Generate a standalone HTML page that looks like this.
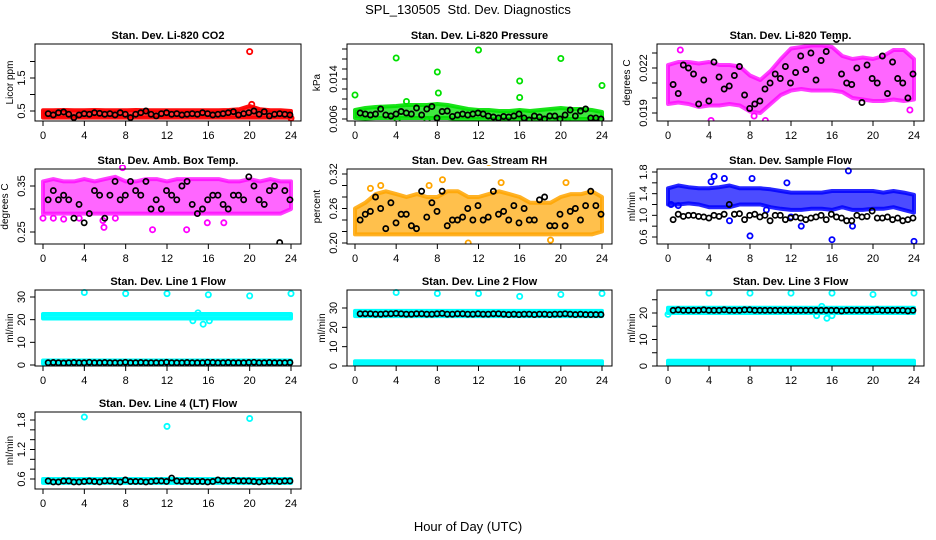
<!DOCTYPE html>
<html><head><meta charset="utf-8"><style>
html,body{margin:0;padding:0;background:#fff;}
svg{display:block;font-family:"Liberation Sans",Arial,sans-serif;}
</style></head><body>
<svg id="chart" width="936" height="540" viewBox="0 0 936 540" xmlns="http://www.w3.org/2000/svg">
<text x="468" y="14" font-size="13" text-anchor="middle">SPL_130505&#160; Std. Dev. Diagnostics</text>
<text x="468" y="531" font-size="13" text-anchor="middle">Hour of Day (UTC)</text>
</svg>
<script>
const hours = [0,1,2,3,4,5,6,7,8,9,10,11,12,13,14,15,16,17,18,19,20,21,22,23,24];
const xTicks = [0,4,8,12,16,20,24];

const co2Lo = [0.3,0.3,0.3,0.3,0.3,0.3,0.3,0.3,0.3,0.3,0.3,0.3,0.3,0.3,0.3,0.3,0.3,0.3,0.3,0.3,0.3,0.3,0.3,0.3,0.3];
const co2Hi = [0.52,0.52,0.53,0.52,0.52,0.53,0.52,0.52,0.52,0.53,0.52,0.52,0.52,0.52,0.52,0.52,0.52,0.52,0.53,0.55,0.65,0.55,0.52,0.52,0.5];
const co2OutX = [20,24,20.2];
const co2OutY = [2.3,0.28,0.7];
const co2Black = [0.42,0.38,0.45,0.47,0.40,0.30,0.38,0.42,0.40,0.45,0.43,0.40,0.42,0.38,0.45,0.40,0.30,0.40,0.45,0.50,0.40,0.35,0.42,0.45,0.40,0.42,0.38,0.40,0.42,0.40,0.45,0.42,0.38,0.40,0.42,0.45,0.48,0.38,0.42,0.45,0.50,0.40,0.48,0.35,0.40,0.42,0.40,0.38];

const presLo = [0.0062,0.0061,0.0062,0.0062,0.0062,0.0062,0.0062,0.0062,0.0062,0.0062,0.006,0.006,0.006,0.006,0.006,0.006,0.006,0.006,0.006,0.006,0.006,0.006,0.006,0.006,0.006];
const presHi = [0.0078,0.0082,0.0084,0.0085,0.0086,0.0088,0.0088,0.0088,0.009,0.0088,0.0084,0.008,0.0078,0.0078,0.0076,0.0076,0.0078,0.0076,0.0078,0.008,0.0082,0.008,0.008,0.0078,0.0074];
const presOutX = [0,4,8,8.1,12,16,16,20,24,4.1,10.6,14.8,20.7,5,7];
const presOutY = [0.0108,0.0182,0.0154,0.0112,0.0198,0.0136,0.0103,0.0181,0.0127,0.0059,0.005,0.0055,0.0055,0.0095,0.0058];
const presBlack = [0.0072,0.0070,0.0068,0.0070,0.0080,0.0068,0.0066,0.0070,0.0075,0.0072,0.0070,0.0082,0.0068,0.0080,0.0085,0.0062,0.0075,0.0076,0.0065,0.0068,0.0070,0.0068,0.0070,0.0072,0.0070,0.0066,0.0064,0.0062,0.0065,0.0064,0.0066,0.0070,0.0062,0.0058,0.0066,0.0064,0.0060,0.0066,0.0066,0.0060,0.0068,0.0078,0.0066,0.0076,0.0080,0.0062,0.0062,0.0060];

const ltLo = [0.0196,0.0197,0.0196,0.0194,0.0195,0.0195,0.0196,0.0195,0.0191,0.019,0.0196,0.0202,0.0205,0.0206,0.0205,0.0205,0.0205,0.0204,0.02,0.0199,0.0198,0.0198,0.0199,0.0198,0.0199];
const ltHi = [0.0222,0.0224,0.0224,0.0223,0.0224,0.0222,0.0222,0.0221,0.0215,0.0212,0.0218,0.0226,0.0233,0.0234,0.0235,0.0235,0.0234,0.0228,0.0226,0.0227,0.0226,0.0228,0.0232,0.0232,0.0226];
const ltOutX = [4.2,9.5,23.6,1.2,8.4];
const ltOutY = [0.0185,0.0185,0.0192,0.0232,0.0188];
const ltBlack = [0.0209,0.0203,0.0222,0.0220,0.0216,0.0196,0.0212,0.0198,0.0224,0.0214,0.0206,0.0208,0.0215,0.0221,0.0202,0.0193,0.0196,0.0198,0.0206,0.0210,0.0216,0.0213,0.0221,0.0210,0.0217,0.0228,0.0219,0.0230,0.0212,0.0225,0.0231,0.0245,0.0239,0.0216,0.0210,0.0209,0.0220,0.0197,0.0222,0.0213,0.0210,0.0228,0.0203,0.0224,0.0213,0.0210,0.0200,0.0216];

const abLo = [0.29,0.29,0.29,0.29,0.29,0.29,0.29,0.29,0.29,0.29,0.29,0.29,0.29,0.29,0.29,0.29,0.29,0.29,0.29,0.29,0.29,0.29,0.29,0.29,0.3];
const abHi = [0.36,0.365,0.36,0.36,0.365,0.36,0.365,0.37,0.36,0.36,0.365,0.365,0.36,0.365,0.365,0.365,0.365,0.365,0.36,0.36,0.365,0.36,0.365,0.36,0.36];
const abOutX = [5.9,5.8,7,10.6,13.9,15.9,0,1,2,7.7,3.5,17.5];
const abOutY = [0.26,0.275,0.28,0.255,0.255,0.27,0.28,0.28,0.278,0.39,0.28,0.27];
const abBlack = [0.32,0.34,0.32,0.33,0.32,0.28,0.31,0.27,0.29,0.34,0.33,0.28,0.33,0.36,0.32,0.33,0.36,0.34,0.33,0.36,0.30,0.32,0.30,0.34,0.33,0.32,0.35,0.36,0.31,0.29,0.30,0.32,0.33,0.33,0.31,0.30,0.33,0.33,0.32,0.37,0.35,0.32,0.31,0.34,0.35,0.227,0.34,0.32];

const rhLo = [0.215,0.215,0.215,0.215,0.215,0.215,0.215,0.215,0.215,0.215,0.215,0.215,0.215,0.215,0.215,0.215,0.215,0.215,0.215,0.215,0.215,0.215,0.215,0.215,0.22];
const rhHi = [0.26,0.27,0.285,0.29,0.285,0.28,0.285,0.28,0.28,0.29,0.29,0.28,0.28,0.285,0.29,0.285,0.28,0.27,0.27,0.27,0.28,0.285,0.285,0.29,0.28];
const rhOutX = [13,19,8.5,20.5,2.5,11,14.2,1.5,7.2];
const rhOutY = [0.34,0.205,0.31,0.305,0.3,0.2,0.305,0.295,0.3];
const rhBlack = [0.24,0.25,0.255,0.28,0.26,0.225,0.27,0.235,0.25,0.25,0.23,0.225,0.29,0.245,0.27,0.255,0.29,0.23,0.24,0.24,0.245,0.26,0.24,0.265,0.24,0.245,0.29,0.25,0.255,0.24,0.265,0.235,0.26,0.24,0.24,0.275,0.28,0.23,0.23,0.25,0.23,0.255,0.26,0.24,0.265,0.29,0.265,0.25];

const sfLo = [1.2,1.2,1.22,1.2,1.15,1.15,1.15,1.2,1.2,1.2,1.15,1.12,1.1,1.1,1.12,1.12,1.1,1.15,1.1,1.1,1.12,1.12,1.15,1.1,1.05];
const sfHi = [1.5,1.55,1.52,1.5,1.5,1.52,1.55,1.5,1.5,1.5,1.48,1.45,1.42,1.42,1.42,1.42,1.45,1.45,1.45,1.45,1.45,1.42,1.45,1.42,1.38];
const sfOutX = [17.6,0.3,16,8,24,13,6,18,4.5,5.5,8.2,12,4.2,1,11.6,9.6];
const sfOutY = [1.82,1.2,0.55,0.62,0.52,0.8,0.9,0.8,1.72,1.68,1.68,0.97,1.62,1.18,1.6,1.1];
const sfBlack = [0.92,1.02,0.98,1.0,1.0,0.98,0.97,0.95,1.0,0.98,1.02,1.2,1.02,1.03,0.92,1.0,1.02,0.97,1.0,0.9,1.0,1.0,0.92,0.95,0.97,0.95,0.92,0.95,0.97,1.0,0.92,1.02,0.97,0.95,0.9,0.9,1.0,0.97,0.98,1.08,0.95,0.95,0.97,0.92,0.95,0.9,0.92,0.95];

const l1Lo = [20.5,20.5,20.5,20.5,20.5,20.5,20.5,20.5,20.5,20.5,20.5,20.5,20.5,20.5,20.5,20.5,20.5,20.5,20.5,20.5,20.5,20.5,20.5,20.5,20.5];
const l1Hi = [22.5,22.5,22.5,22.5,22.5,22.5,22.5,22.5,22.5,22.5,22.5,22.5,22.5,22.5,22.5,22.5,22.5,22.5,22.5,22.5,22.5,22.5,22.5,22.5,22.5];
const l1Lo2 = [0.6,0.6,0.6,0.6,0.6,0.6,0.6,0.6,0.6,0.6,0.6,0.6,0.6,0.6,0.6,0.6,0.6,0.6,0.6,0.6,0.6,0.6,0.6,0.6,0.6];
const l1Hi2 = [2,2,2,2,2,2,2,2,2,2,2,2,2,2,2,2,2,2,2,2,2,2,2,2,2];
const l1OutX = [4,8,12,16,20,24,15,15.5,14.5,16.1];
const l1OutY = [32,31.5,31.5,31,30.5,31.5,23,18,19.5,19.5];
const l1Black = [1.0,1.1,1.0,0.9,1.0,1.1,1.0,1.0,1.2,1.0,1.0,1.1,1.0,1.0,1.0,1.2,1.0,1.0,1.1,1.0,1.0,1.0,1.0,1.2,1.0,1.0,1.0,1.1,1.0,1.0,1.0,1.2,1.1,1.0,1.0,1.1,1.0,1.0,1.0,1.1,1.2,1.0,1.0,1.1,1.0,1.0,1.0,1.1];

const l2Lo = [25.8,25.8,25.8,25.8,25.8,25.8,25.8,25.8,25.8,25.8,25.8,25.8,25.8,25.8,25.8,25.8,25.8,25.8,25.8,25.8,25.8,25.8,25.8,25.8,25.8];
const l2Hi = [28.5,28.5,28.5,28.5,28.5,28.5,28.5,28.5,28.5,28.5,28.5,28.5,28.5,28.5,28.5,28.5,28.5,28.5,28.5,28.5,28.5,28.5,28.5,28.5,28.5];
const l2Lo2 = [0.5,0.5,0.5,0.5,0.5,0.5,0.5,0.5,0.5,0.5,0.5,0.5,0.5,0.5,0.5,0.5,0.5,0.5,0.5,0.5,0.5,0.5,0.5,0.5,0.5];
const l2Hi2 = [2.5,2.5,2.5,2.5,2.5,2.5,2.5,2.5,2.5,2.5,2.5,2.5,2.5,2.5,2.5,2.5,2.5,2.5,2.5,2.5,2.5,2.5,2.5,2.5,2.5];
const l2OutX = [4,8,12,16,20,24];
const l2OutY = [38,37.5,37.5,36,37,37.5];
const l2Black = [27,27,27,26.8,26.8,27,27,27.2,27,26.8,26.8,27,27,26.8,26.8,27,27.2,26.8,26.8,27,27,26.8,26.8,27,26.8,26.8,27,27,26.8,26.6,26.8,26.6,26.8,26.8,26.6,26.8,26.8,26.6,26.8,26.8,27,26.8,26.6,26.8,26.6,26.6,26.6,26.6];

const l3Lo = [20,20,20,20,20,20,20,20,20,20,20,20,20,20,20,20,20,20,20,20,20,20,20,20,20];
const l3Hi = [22,22,22,22,22,22,22,22,22,22,22,22,22,22,22,22,22,22,22,22,22,22,22,22,22];
const l3Lo2 = [0.5,0.5,0.5,0.5,0.5,0.5,0.5,0.5,0.5,0.5,0.5,0.5,0.5,0.5,0.5,0.5,0.5,0.5,0.5,0.5,0.5,0.5,0.5,0.5,0.5];
const l3Hi2 = [2,2,2,2,2,2,2,2,2,2,2,2,2,2,2,2,2,2,2,2,2,2,2,2,2];
const l3OutX = [4,8,12,16,20,24,0,14.5,15.5,15,16];
const l3OutY = [27.5,27.5,27.5,27.5,27,27.5,19.5,19,18,22.5,19];
const l3Black = [21,21.2,21,21,21,21,21.2,21,21,21,21.2,21,21,21,21.2,21.2,21,21,21,21,21,21,21,21,21,21,21,21,21,21,21,21,21,20.8,21,21,21,21,21,21,21.2,21,21,21,21,21,20.8,21];

const l4Lo = [0.52,0.52,0.52,0.52,0.52,0.52,0.52,0.52,0.52,0.52,0.52,0.52,0.52,0.52,0.52,0.52,0.52,0.52,0.52,0.52,0.52,0.52,0.52,0.52,0.52];
const l4Hi = [0.6,0.6,0.6,0.6,0.6,0.6,0.6,0.6,0.6,0.6,0.6,0.6,0.6,0.6,0.6,0.6,0.6,0.6,0.6,0.6,0.6,0.6,0.6,0.6,0.6];
const l4OutX = [4,12,20];
const l4OutY = [1.86,1.67,1.83];
const l4Black = [0.56,0.54,0.54,0.56,0.56,0.54,0.54,0.55,0.56,0.55,0.54,0.56,0.56,0.55,0.54,0.58,0.55,0.55,0.55,0.54,0.55,0.56,0.56,0.55,0.62,0.56,0.55,0.56,0.55,0.55,0.55,0.54,0.55,0.58,0.56,0.56,0.57,0.56,0.56,0.56,0.55,0.54,0.55,0.56,0.56,0.55,0.56,0.56];

const NS = "http://www.w3.org/2000/svg";
const svg = document.getElementById('chart');
function mk(tag, attrs, parent){
  const e = document.createElementNS(NS, tag);
  for (const k in attrs) e.setAttribute(k, attrs[k]);
  (parent||svg).appendChild(e);
  return e;
}
const COLS = [{l:35,r:301,x0:43,x24:291},{l:347,r:612,x0:355,x24:602},{l:657,r:924,x0:668,x24:914}];
const ROWS = [{t:44,b:121},{t:169,b:244},{t:290,b:366},{t:412,b:489}];

const panels = [
 {key:'co2',title:'Stan. Dev. Li-820 CO2',ylab:'Licor ppm',col:0,row:0,v1:0.5,p1:111,v2:1.5,p2:78,ticks:[0.5,1,1.5,2],labels:['0.5','1.5'],color:'#ff0000',op:0.8,bands:[[co2Lo,co2Hi]],ox:co2OutX,oy:co2OutY,blk:co2Black},
 {key:'pressure',title:'Stan. Dev. Li-820 Pressure',ylab:'kPa',col:1,row:0,v1:0.006,p1:119,v2:0.014,p2:79,ticks:[0.006,0.008,0.010,0.012,0.014,0.016,0.018,0.020],labels:['0.006','0.014'],color:'#00e000',op:0.75,bands:[[presLo,presHi]],ox:presOutX,oy:presOutY,blk:presBlack},
 {key:'licor-temp',title:'Stan. Dev. Li-820 Temp.',ylab:'degrees C',col:2,row:0,v1:0.019,p1:113,v2:0.022,p2:68,ticks:[0.019,0.020,0.021,0.022,0.023],labels:['0.019','0.022'],color:'#ff00ff',op:0.6,bands:[[ltLo,ltHi]],ox:ltOutX,oy:ltOutY,blk:ltBlack},
 {key:'amb-box-temp',title:'Stan. Dev. Amb. Box Temp.',ylab:'degrees C',col:0,row:1,v1:0.25,p1:232,v2:0.35,p2:186,ticks:[0.25,0.30,0.35],labels:['0.25','0.35'],color:'#ff00ff',op:0.6,bands:[[abLo,abHi]],ox:abOutX,oy:abOutY,blk:abBlack},
 {key:'gas-rh',title:'Stan. Dev. Gas Stream RH',ylab:'percent',col:1,row:1,v1:0.20,p1:243,v2:0.32,p2:174,ticks:[0.20,0.22,0.24,0.26,0.28,0.30,0.32],labels:['0.20','0.26','0.32'],color:'#ffa500',op:0.7,bands:[[rhLo,rhHi]],ox:rhOutX,oy:rhOutY,blk:rhBlack},
 {key:'sample-flow',title:'Stan. Dev. Sample Flow',ylab:'ml/min',col:2,row:1,v1:0.6,p1:237,v2:1.8,p2:172,ticks:[0.6,0.8,1.0,1.2,1.4,1.6,1.8],labels:['0.6','1.0','1.4','1.8'],color:'#0000ff',op:0.7,bands:[[sfLo,sfHi]],ox:sfOutX,oy:sfOutY,blk:sfBlack},
 {key:'line1',title:'Stan. Dev. Line 1 Flow',ylab:'ml/min',col:0,row:2,v1:0,p1:365,v2:30,p2:297,ticks:[0,10,20,30],labels:['0','10','20','30'],color:'#00ffff',op:0.9,bands:[[l1Lo,l1Hi],[l1Lo2,l1Hi2]],ox:l1OutX,oy:l1OutY,blk:l1Black},
 {key:'line2',title:'Stan. Dev. Line 2 Flow',ylab:'ml/min',col:1,row:2,v1:0,p1:366,v2:30,p2:308,ticks:[0,10,20,30],labels:['0','10','20','30'],color:'#00ffff',op:0.9,bands:[[l2Lo,l2Hi],[l2Lo2,l2Hi2]],ox:l2OutX,oy:l2OutY,blk:l2Black},
 {key:'line3',title:'Stan. Dev. Line 3 Flow',ylab:'ml/min',col:2,row:2,v1:0,p1:366,v2:20,p2:313,ticks:[0,5,10,15,20,25],labels:['0','10','20'],color:'#00ffff',op:0.9,bands:[[l3Lo,l3Hi],[l3Lo2,l3Hi2]],ox:l3OutX,oy:l3OutY,blk:l3Black},
 {key:'line4',title:'Stan. Dev. Line 4 (LT) Flow',ylab:'ml/min',col:0,row:3,v1:0.6,p1:479,v2:1.8,p2:420,ticks:[0.6,0.8,1.0,1.2,1.4,1.6,1.8],labels:['0.6','1.2','1.8'],color:'#00ffff',op:0.9,bands:[[l4Lo,l4Hi]],ox:l4OutX,oy:l4OutY,blk:l4Black}
];

panels.forEach(p => {
  const C = COLS[p.col], R = ROWS[p.row];
  const xs = h => C.x0 + (C.x24 - C.x0) * h / 24;
  const ys = v => p.p1 + (p.p2 - p.p1) * (v - p.v1) / (p.v2 - p.v1);
  const g = mk('g', {});
  
  
  const t = mk('text', {x:(C.l+C.r)/2, y:R.t-5, 'font-size':11, 'font-weight':'bold', 'text-anchor':'middle'}, g);
  t.textContent = p.title;
  
  
  const clip = mk('clipPath', {id:'clip-'+p.key}, g);
  mk('rect', {x:C.l, y:R.t-4, width:C.r-C.l+4, height:R.b-R.t+4}, clip);
  const plot = mk('g', {'clip-path':'url(#clip-'+p.key+')'}, g);
  p.bands.forEach((b, bi) => {
    const lo = b[0], hi = b[1];
    let d = '';
    hours.forEach((h, i) => { d += (i ? 'L' : 'M') + xs(h).toFixed(1) + ' ' + ys(hi[i]).toFixed(1); });
    for (let i = hours.length - 1; i >= 0; i--) d += 'L' + xs(hours[i]).toFixed(1) + ' ' + ys(lo[i]).toFixed(1);
    d += 'Z';
    const band = mk('path', {d:d, fill:p.color, 'fill-opacity':p.op, stroke:p.color, 'stroke-opacity':Math.min(1,p.op+0.15), 'stroke-width':4, 'stroke-linejoin':'round'}, plot);
    
    
  });
  p.ox.forEach((h, i) => {
    const c = mk('circle', {cx:xs(h), cy:ys(p.oy[i]), r:2.6, fill:'none', stroke:p.color, 'stroke-width':1.8}, plot);
    
    
  });
  p.blk.forEach((v, i) => {
    const c = mk('circle', {cx:xs(0.5 + i * 0.5 * 23.4 / 23.5), cy:ys(v), r:2.6, fill:'none', stroke:'#000', 'stroke-width':1.7}, plot);
    
    
  });
  const box = mk('rect', {x:C.l, y:R.t, width:C.r-C.l, height:R.b-R.t, fill:'none', stroke:'#000', 'stroke-width':1}, g);
  
  
  xTicks.forEach(h => {
    mk('line', {x1:xs(h), x2:xs(h), y1:R.b, y2:R.b+5, stroke:'#000'}, g);
    const tl = mk('text', {x:xs(h), y:R.b+18, 'font-size':11, 'text-anchor':'middle'}, g);
    tl.textContent = h;
    
    
  });
  p.ticks.forEach(v => {
    const y = ys(v);
    if (y < R.t - 1 || y > R.b + 1) return;
    mk('line', {x1:C.l-5, x2:C.l, y1:y, y2:y, stroke:'#000'}, g);
  });
  p.labels.forEach(s => {
    const y = ys(parseFloat(s));
    const tl = mk('text', {x:C.l-10, y:y, 'font-size':11, 'text-anchor':'middle', transform:'rotate(-90 '+(C.l-10)+' '+y+')'}, g);
    tl.textContent = s;
    
    
  });
  const yl = C.l - (p.labels.some(s => s.length > 3) ? 27 : 22);
  const ym = (R.t + R.b) / 2;
  const lab = mk('text', {x:yl, y:ym, 'font-size':10, 'text-anchor':'middle', transform:'rotate(-90 '+yl+' '+ym+')'}, g);
  lab.textContent = p.ylab;
  
  
});
</script>
</body></html>
